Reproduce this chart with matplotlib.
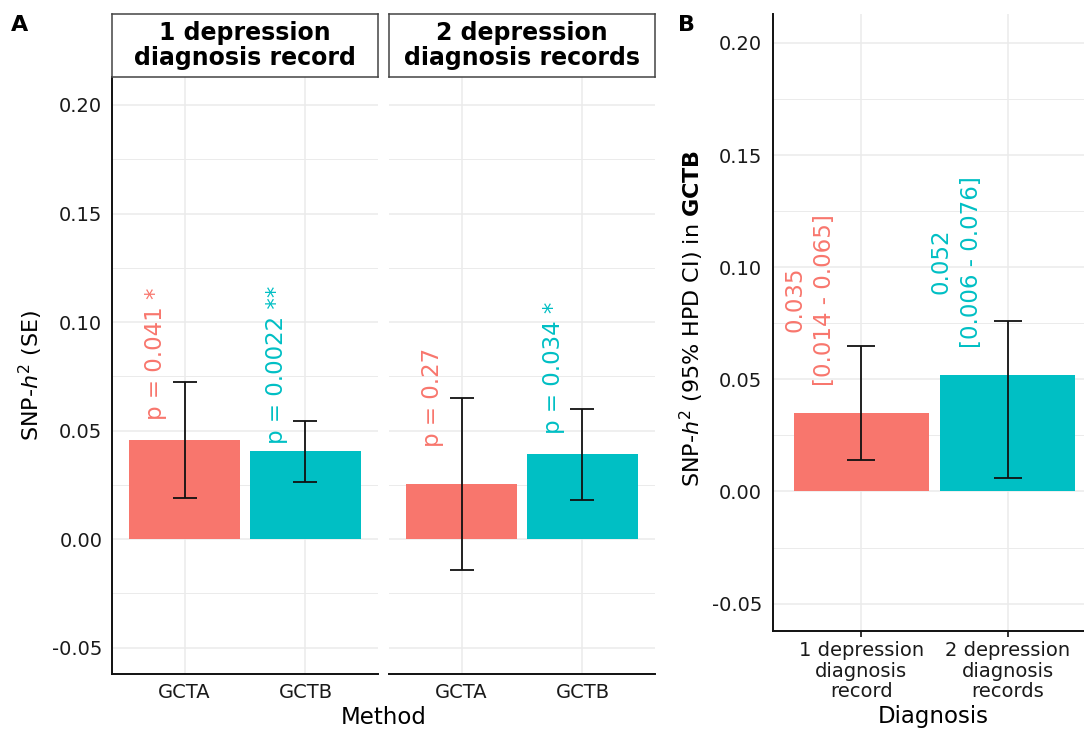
import matplotlib
matplotlib.use("Agg")
import matplotlib.pyplot as plt
import numpy as np

plt.rcParams['font.family'] = ['DejaVu Sans']
plt.rcParams['mathtext.fontset'] = 'dejavusans'

# ---------------- data ----------------
methods = ["GCTA", "GCTB"]
facets = ["1 depression\ndiagnosis record", "2 depression\ndiagnosis records"]
h2_facet1 = [0.0455, 0.0405]
se_facet1 = [0.0267, 0.0140]
h2_facet2 = [0.0253, 0.0390]
se_facet2 = [0.0395, 0.0210]
p_labels_facet1 = ["p = 0.041 *", "p = 0.0022 **"]
p_labels_facet2 = ["p = 0.27", "p = 0.034 *"]

diagnoses = ["1 depression\ndiagnosis\nrecord", "2 depression\ndiagnosis\nrecords"]
gctb_h2 = [0.035, 0.052]
gctb_lo = [0.014, 0.006]
gctb_hi = [0.065, 0.076]

yticks = [-0.05, 0.00, 0.05, 0.10, 0.15, 0.20]
ytick_labels = ["-0.05", "0.00", "0.05", "0.10", "0.15", "0.20"]
yminor = [-0.025, 0.025, 0.075, 0.125, 0.175]

colors = ["#F8766D", "#00BFC4"]

# ---------------- layout ----------------
W, H = 1084, 729
fig = plt.figure(figsize=(W / 100, H / 100), dpi=100)


def rect(l, t, r, b):
    return [l / W, 1 - b / H, (r - l) / W, (b - t) / H]


YLIM = (-0.0622, 0.2129)
GRID = "#EBEBEB"
TXT = "#1a1a1a"


def style_axes(ax, left_line=True, show_ylabels=True):
    ax.set_yticks(yticks)
    ax.set_yticks(yminor, minor=True)
    ax.set_yticklabels(ytick_labels if show_ylabels else [])
    ax.set_xticks([0, 1])
    ax.set_xticks([], minor=True)
    ax.grid(True, which="major", color=GRID, lw=1.1, zorder=0)
    ax.grid(True, which="minor", axis="y", color=GRID, lw=0.7, zorder=0)
    ax.set_axisbelow(True)
    for s in ["top", "right"]:
        ax.spines[s].set_visible(False)
    ax.spines["left"].set_visible(left_line)
    for s in ["left", "bottom"]:
        ax.spines[s].set_color("#111111")
        ax.spines[s].set_linewidth(1.4)
    ax.tick_params(axis="y", which="both", length=0, labelsize=14, colors=TXT, pad=7)


# Panel A facets
facet_data = [(h2_facet1, se_facet1, p_labels_facet1), (h2_facet2, se_facet2, p_labels_facet2)]
facet_x = [(112, 378), (389, 655)]
for i, ((h2, se, plabs), (xl, xr)) in enumerate(zip(facet_data, facet_x)):
    ax = fig.add_axes(rect(xl, 77, xr, 674))
    style_axes(ax, left_line=(i == 0), show_ylabels=(i == 0))
    x = np.arange(len(methods))
    ax.bar(x, h2, width=0.92, color=colors, zorder=2)
    ax.errorbar(x, h2, yerr=se, fmt="none", ecolor="#111111", elinewidth=1.3,
                capsize=8.6, capthick=1.3, zorder=3)
    ax.set_xticklabels(methods)
    ax.tick_params(axis="x", length=0, labelsize=14, colors=TXT, pad=6.5)
    for xi, yi, lab, c in zip(x, h2, plabs, colors):
        ax.text(xi - 0.24, yi + 0.040, lab, rotation=90, ha="center", va="center",
                color=c, fontsize=16.5, zorder=4)
    ax.set_xlim(-0.6, 1.6)
    ax.set_ylim(*YLIM)
    # strip
    sax = fig.add_axes(rect(xl, 14, xr, 77))
    sax.set_xticks([])
    sax.set_yticks([])
    for s in sax.spines.values():
        s.set_color("#444444")
        s.set_linewidth(1.1)
    sax.text(0.5, 0.5, facets[i], ha="center", va="center", fontsize=17,
             fontweight="bold", color="black", linespacing=1.1,
             transform=sax.transAxes)

# Panel B
axb = fig.add_axes(rect(773, 14, 1096, 631))
style_axes(axb, left_line=True, show_ylabels=True)
axb.tick_params(axis="y", pad=8)
xb = np.arange(len(diagnoses))
axb.bar(xb, gctb_h2, width=0.92, color=colors, zorder=2)
yerr_b = [np.array(gctb_h2) - np.array(gctb_lo), np.array(gctb_hi) - np.array(gctb_h2)]
axb.errorbar(xb, gctb_h2, yerr=yerr_b, fmt="none", ecolor="#111111", elinewidth=1.3,
             capsize=10, capthick=1.3, zorder=3)
axb.set_xticklabels(diagnoses)
axb.tick_params(axis="x", length=4, width=1.2, color="#111111", labelsize=14,
                labelcolor=TXT, pad=3.5)
for lab in axb.get_xticklabels():
    lab.set_linespacing(1.1)
for xi, v, lo, hi, c in zip(xb, gctb_h2, gctb_lo, gctb_hi, colors):
    axb.text(xi - 0.35, v + 0.0505, f"{v:.3f}\n[{lo:.3f} - {hi:.3f}]", rotation=90,
             ha="center", va="center", multialignment="center", color=c,
             fontsize=16.5, linespacing=1.4, zorder=4)
axb.set_xlim(-0.6, 1.6)
axb.set_ylim(*YLIM)

# Titles & labels
fig.text(384 / W, 1 - 717 / H, "Method", ha="center", va="center", fontsize=16.5, color="black")
fig.text(933 / W, 1 - 717 / H, "Diagnosis", ha="center", va="center", fontsize=16.5, color="black")
fig.text(31 / W, 1 - 375 / H, r"SNP-$\mathit{h}^2$ (SE)", rotation=90, ha="center",
         va="center", fontsize=16, color="black")
fig.text(692 / W, 1 - 318 / H, r"SNP-$\mathit{h}^2$ (95% HPD CI) in $\mathbf{GCTB}$",
         rotation=90, ha="center", va="center", fontsize=16, color="black")
fig.text(20 / W, 1 - 25 / H, "A", ha="center", va="center", fontsize=16, fontweight="bold")
fig.text(686 / W, 1 - 25 / H, "B", ha="center", va="center", fontsize=16, fontweight="bold")

fig.savefig("out.png", dpi=100)
